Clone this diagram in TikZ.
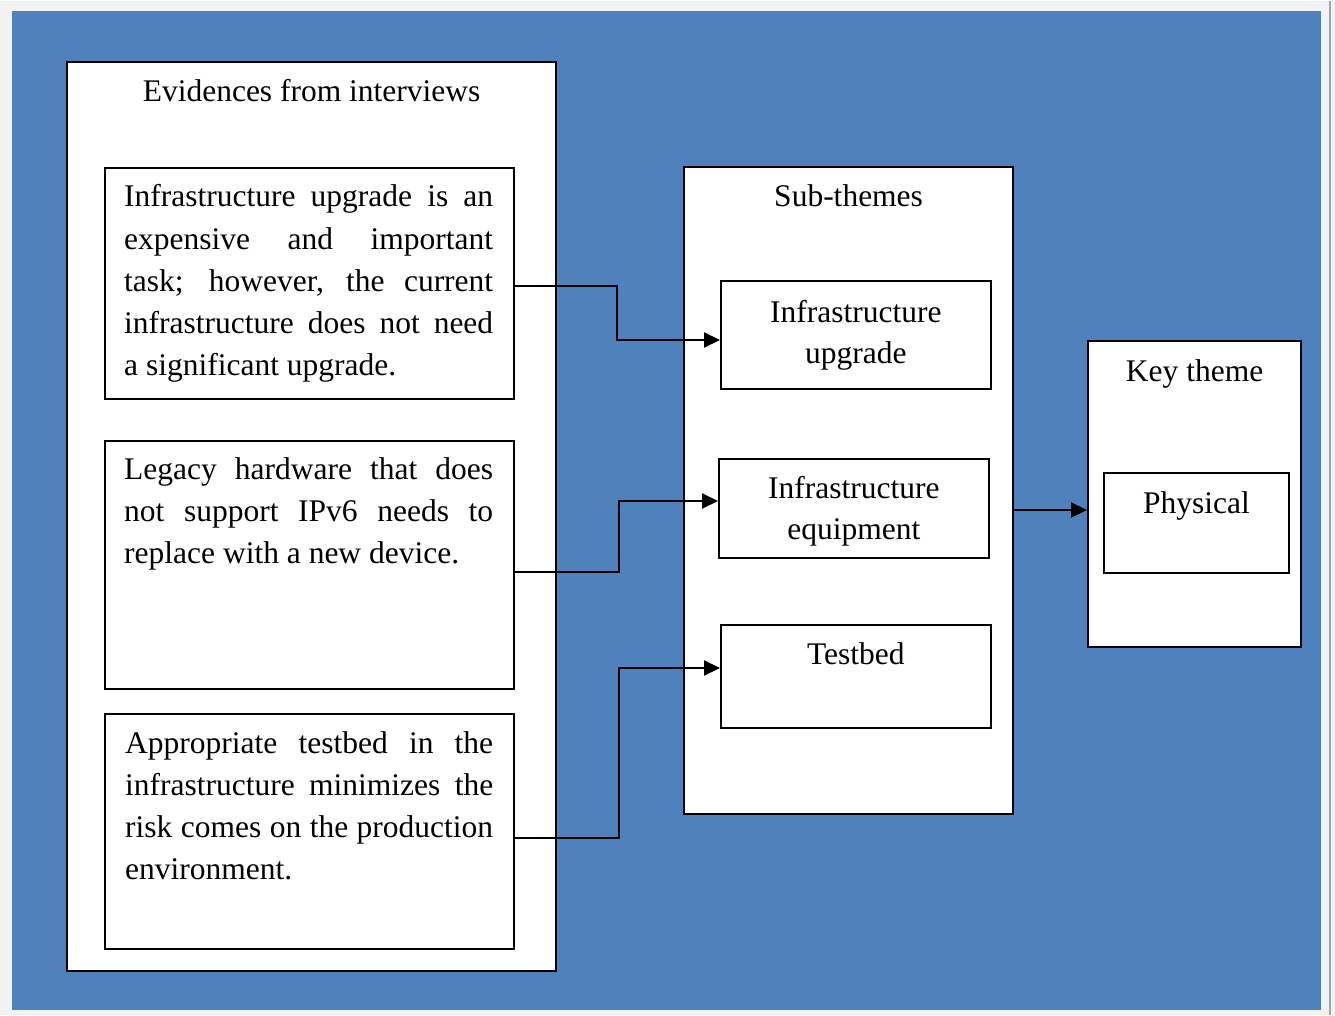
\documentclass[tikz,border=0pt]{standalone}
\usepackage{fontspec}
\setmainfont{Liberation Serif}
\usetikzlibrary{arrows.meta,calc}
\definecolor{pagegray}{HTML}{F2F2F2}
\definecolor{panelblue}{HTML}{4F81BD}
\definecolor{edgegray}{HTML}{9AA6B6}
\begin{document}
\begin{tikzpicture}[x=1pt,y=-1pt,
  frame/.style={draw=black, line width=2.2pt, fill=white, inner sep=0pt, anchor=north west},
  innerbox/.style={draw=black, line width=1.8pt, fill=white, inner sep=0pt, anchor=north west},
  body/.style={font=\fontsize{31.5}{42.2}\selectfont, inner sep=0pt, align=justify, anchor=base west},
  head/.style={font=\fontsize{31.5}{41.5}\selectfont, inner sep=0pt, align=center, anchor=base},
  conn/.style={draw=black, line width=2pt, -{Triangle[length=16pt,width=15pt]}},
  ]
% page and panel
\fill[pagegray] (0,0) rectangle (1335,1014);
\fill[panelblue] (12,10) rectangle (1321,1009);
\draw[edgegray, line width=2pt] (1330,0) -- (1330,1014);

% evidence column
\node[frame, minimum width=489pt, minimum height=909pt] (ev) at (66,60) {};
\node[head] (evt) at ($(ev.north)+(0,41)$) {Evidences from interviews};

\node[innerbox, minimum width=409pt, minimum height=231pt] (ea) at (104,166) {};
\node[body, text width=369pt] (eat) at ($(ea.north west)+(20,40)$)
  {Infrastructure upgrade is an\linebreak
   expensive and important\linebreak
   task; however, the current\linebreak
   infrastructure does not need\linebreak
   a significant upgrade.};

\node[innerbox, minimum width=409pt, minimum height=248pt] (eb) at (104,439) {};
\node[body, text width=369pt] (ebt) at ($(eb.north west)+(20,39)$)
  {Legacy hardware that does\linebreak
   not support IPv6 needs to\linebreak
   replace with a new device.};

\node[innerbox, minimum width=409pt, minimum height=235pt] (ec) at (104,712) {};
\node[body, text width=368pt] (ect) at ($(ec.north west)+(21,40)$)
  {Appropriate testbed in the\linebreak
   infrastructure minimizes the\linebreak
   risk comes on the production\linebreak
   environment.};

% sub-themes column
\node[frame, minimum width=329pt, minimum height=647pt] (st) at (683,165) {};
\node[head] (stt) at ($(st.north)+(0,41)$) {Sub-themes};

% two-line labels sit on the baseline of their last line
\node[innerbox, minimum width=270pt, minimum height=108pt] (s1) at (720,279) {};
\node[head] (s1t) at ($(s1.north)+(0,83.5)$) {Infrastructure\\upgrade};

\node[innerbox, minimum width=270pt, minimum height=99pt] (s2) at (718,457) {};
\node[head] (s2t) at ($(s2.north)+(0,81.5)$) {Infrastructure\\equipment};

\node[innerbox, minimum width=270pt, minimum height=103pt] (s3) at (720,623) {};
\node[head] (s3t) at ($(s3.north)+(0,40)$) {Testbed};

% key theme column
\node[frame, minimum width=213pt, minimum height=306pt] (kt) at (1087,339) {};
\node[head] (ktt) at ($(kt.north)+(0,41)$) {Key theme};

\node[innerbox, minimum width=185pt, minimum height=100pt] (k1) at (1103,471) {};
\node[head] (k1t) at ($(k1.north)+(0,41)$) {Physical};

% connectors
\draw[conn] ($(ea.north east)+(0,119)$) -- ++(102,0) |- ($(s1.north west)+(0,60)$);
\draw[conn] ($(eb.north east)+(0,132)$) -- ++(104,0) |- ($(s2.north west)+(0,43)$);
\draw[conn] ($(ec.north east)+(0,125)$) -- ++(104,0) |- ($(s3.north west)+(0,44)$);
\draw[conn] ($(st.north east)+(0,344)$) -- ($(kt.north west)+(0,170)$);
\end{tikzpicture}
\end{document}
